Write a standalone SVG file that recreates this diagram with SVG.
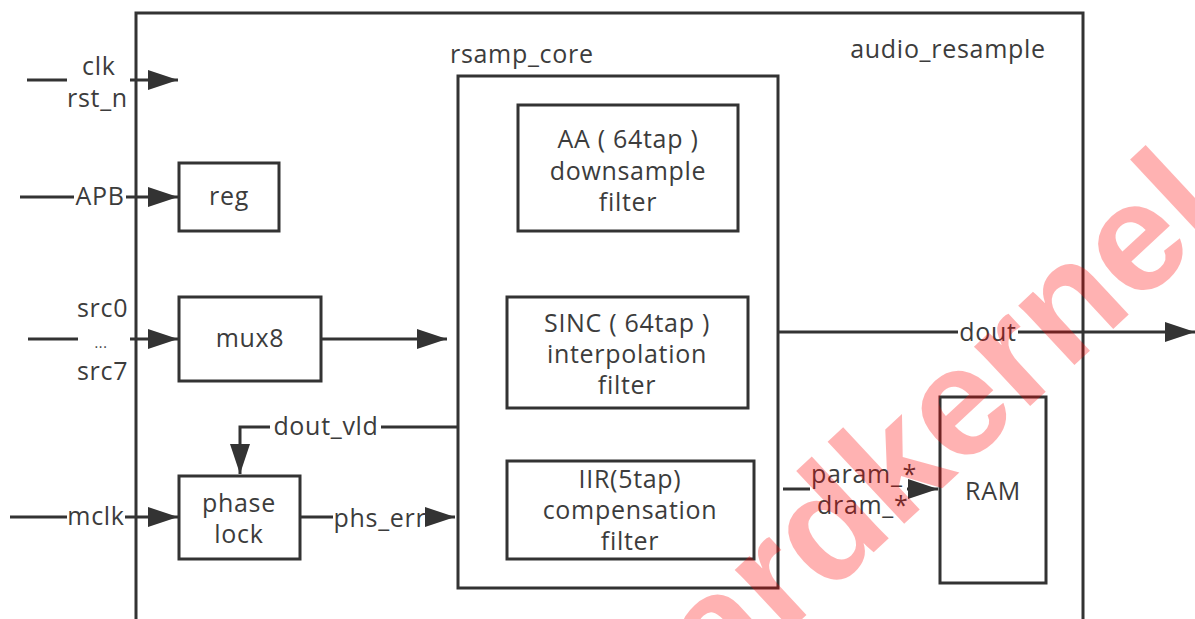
<svg xmlns="http://www.w3.org/2000/svg" width="1195" height="619" viewBox="0 0 1195 619">
<style>
.box{fill:none;stroke:#333;stroke-width:3}
.ln{fill:none;stroke:#333;stroke-width:3}
.t{font-family:"Open Sans","Noto Sans",sans-serif;font-size:25px;letter-spacing:0.7px;fill:#3c3c3c}
.c{text-anchor:middle}
.wm{font-family:"Liberation Sans",Arial,sans-serif;font-weight:bold;font-size:155px;fill:#ff0000;fill-opacity:0.3}
</style>
<defs>
<marker id="ah" markerUnits="userSpaceOnUse" markerWidth="30" markerHeight="20" refX="30" refY="10" orient="auto">
<path d="M0,0 L30,10 L0,20 z" fill="#333"/>
</marker>
</defs>
<rect width="1195" height="619" fill="#fff"/>
<g id="audio_resample">
<rect class="box" x="136" y="13" width="947" height="640"/>
<text class="t c" x="948" y="58">audio_resample</text>
</g>
<g id="rsamp_core">
<rect class="box" x="458" y="76" width="320" height="512"/>
<text class="t" x="450" y="63">rsamp_core</text>
</g>
<g id="aa_filter">
<rect class="box" x="518" y="105" width="220" height="126"/>
<text class="t c" x="628" y="148">AA ( 64tap )</text>
<text class="t c" x="628" y="180">downsample</text>
<text class="t c" x="628" y="211">filter</text>
</g>
<g id="sinc_filter">
<rect class="box" x="507" y="297" width="241" height="111"/>
<text class="t c" x="627" y="332">SINC ( 64tap )</text>
<text class="t c" x="627" y="363">interpolation</text>
<text class="t c" x="627" y="394">filter</text>
</g>
<g id="iir_filter">
<rect class="box" x="507" y="461" width="247" height="98"/>
<text class="t c" x="630" y="488">IIR(5tap)</text>
<text class="t c" x="630" y="519">compensation</text>
<text class="t c" x="630" y="550">filter</text>
</g>
<g id="reg">
<rect class="box" x="179" y="163" width="100" height="68"/>
<text class="t c" x="229" y="205">reg</text>
</g>
<g id="mux8">
<rect class="box" x="179" y="297" width="142" height="84"/>
<text class="t c" x="250" y="347">mux8</text>
</g>
<g id="phase_lock">
<rect class="box" x="179" y="476" width="121" height="83"/>
<text class="t c" x="239" y="512">phase</text>
<text class="t c" x="239" y="543">lock</text>
</g>
<g id="ram">
<rect class="box" x="940" y="397" width="106" height="186"/>
<text class="t c" x="993" y="500">RAM</text>
</g>
<g id="connectors">
<line class="ln" x1="27" y1="80" x2="67" y2="80"/>
<line class="ln" x1="130" y1="80" x2="178" y2="80" marker-end="url(#ah)"/>
<text class="t" x="82" y="75">clk</text>
<text class="t" x="67" y="107">rst_n</text>
<line class="ln" x1="20" y1="197" x2="74" y2="197"/>
<line class="ln" x1="126" y1="197" x2="178" y2="197" marker-end="url(#ah)"/>
<text class="t c" x="100" y="205">APB</text>
<line class="ln" x1="28" y1="339" x2="78" y2="339"/>
<line class="ln" x1="130" y1="339" x2="178" y2="339" marker-end="url(#ah)"/>
<text class="t" x="77" y="317">src0</text>
<text class="t c" x="101" y="348" style="font-size:14px">...</text>
<text class="t" x="77" y="380">src7</text>
<line class="ln" x1="321" y1="339" x2="447" y2="339" marker-end="url(#ah)"/>
<line class="ln" x1="10" y1="517" x2="67" y2="517"/>
<line class="ln" x1="125" y1="517" x2="178" y2="517" marker-end="url(#ah)"/>
<text class="t c" x="96" y="525">mclk</text>
<line class="ln" x1="300" y1="517" x2="333" y2="517"/>
<line class="ln" x1="427" y1="517" x2="455" y2="517" marker-end="url(#ah)"/>
<text class="t c" x="380" y="527">phs_err</text>
<line class="ln" x1="458" y1="427" x2="381" y2="427"/>
<polyline class="ln" points="270,427 240,427 240,474" marker-end="url(#ah)"/>
<text class="t c" x="326" y="435">dout_vld</text>
<line class="ln" x1="778" y1="332" x2="958" y2="332"/>
<line class="ln" x1="1018" y1="332" x2="1195" y2="332" marker-end="url(#ah)"/>
<text class="t c" x="988" y="341">dout</text>
<line class="ln" x1="783" y1="489" x2="810" y2="489"/>
<line class="ln" x1="907" y1="489" x2="938" y2="489" marker-end="url(#ah)"/>
<text class="t" x="811" y="483">param_*</text>
<text class="t" x="817" y="514">dram_*</text>
</g>
<text class="wm" transform="translate(638,772) rotate(-43)">Hardkernel</text>
</svg>
